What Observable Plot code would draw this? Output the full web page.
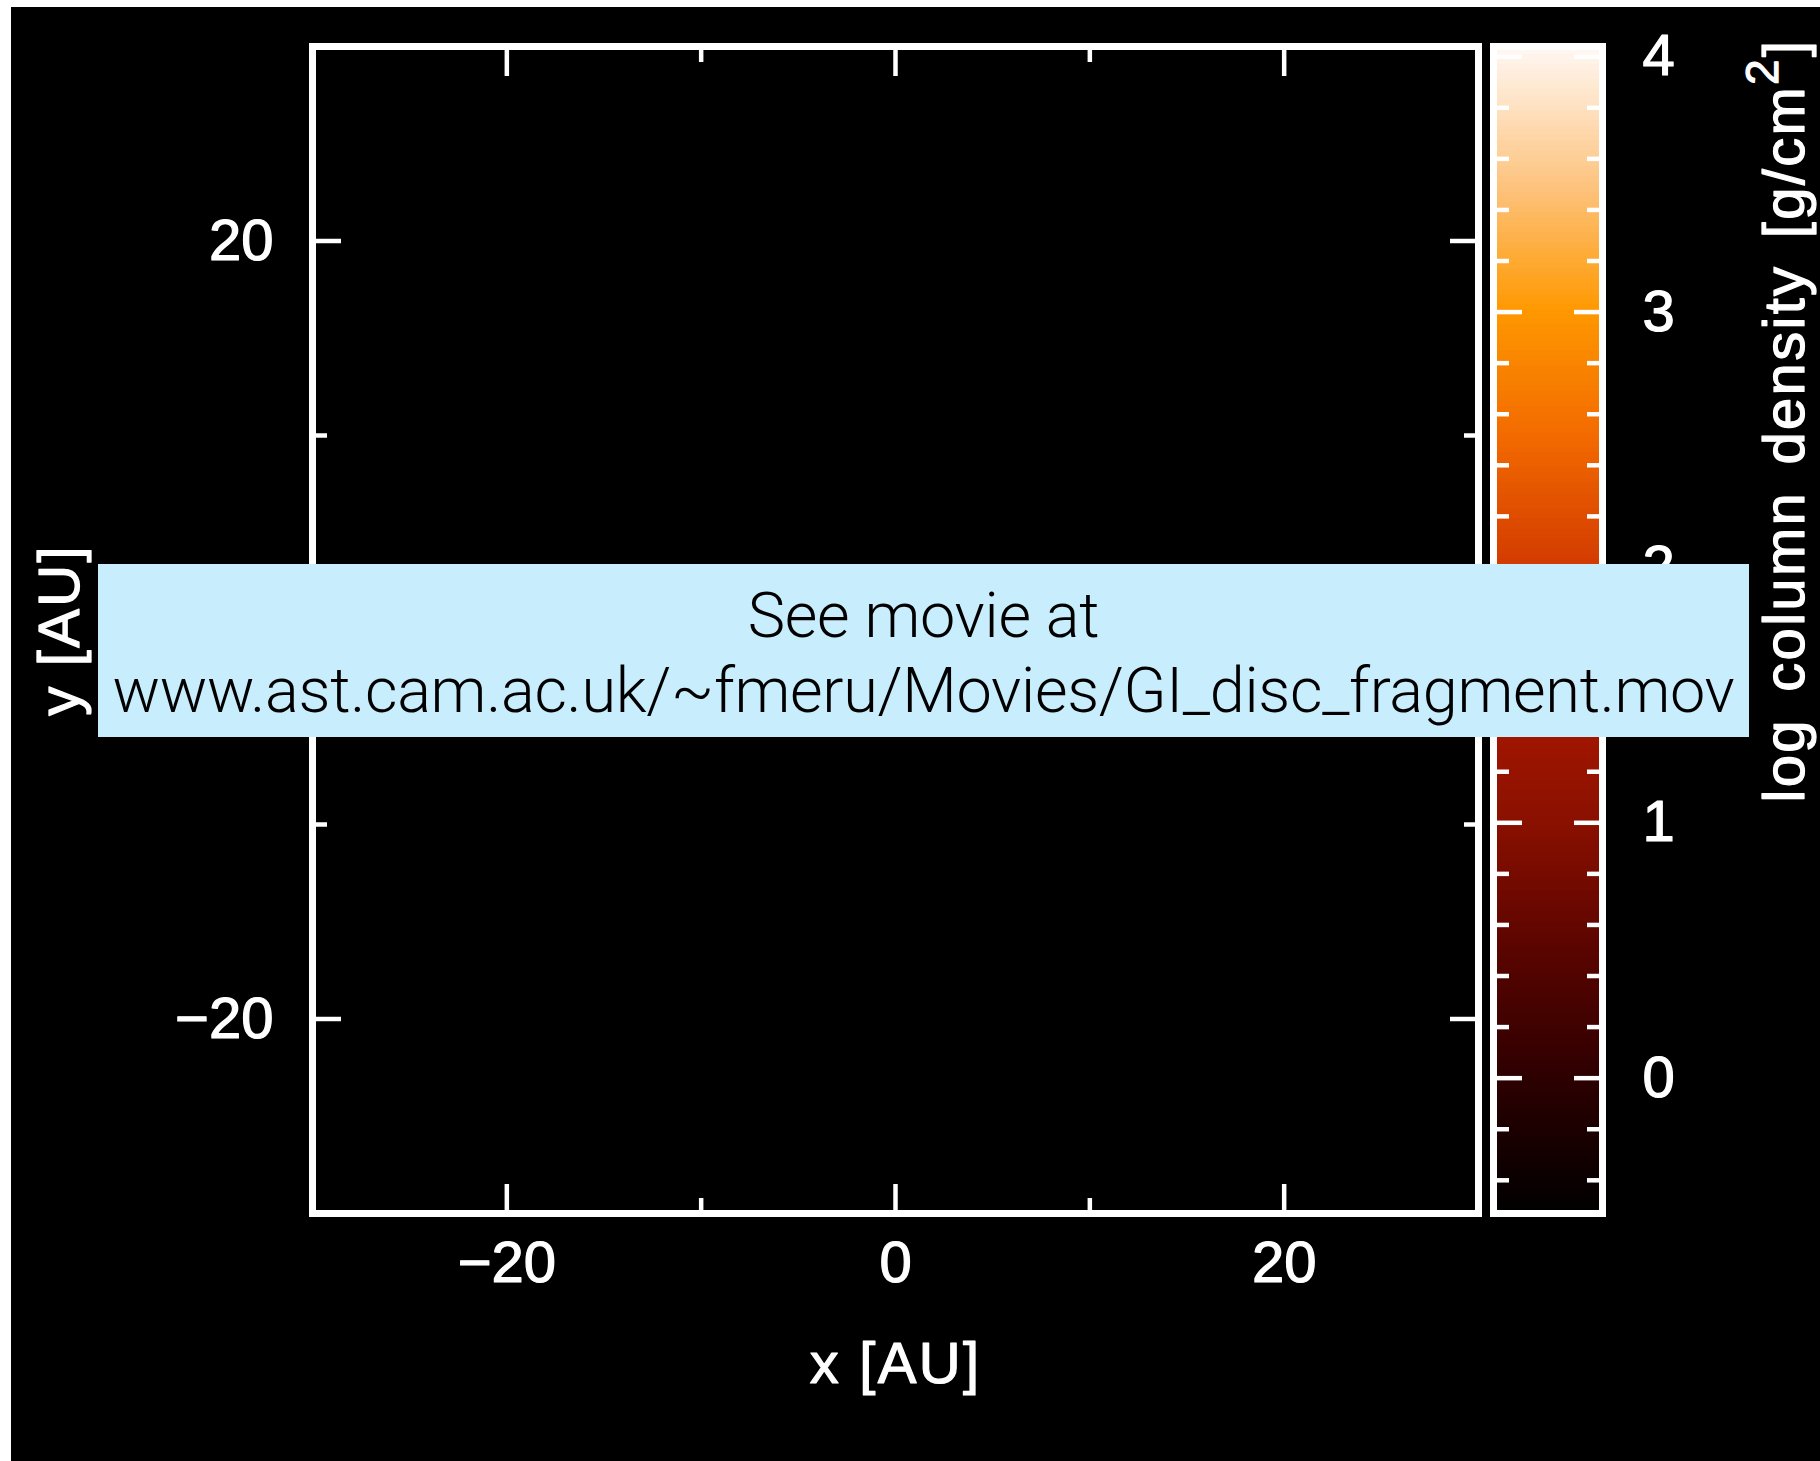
<!DOCTYPE html>
<html>
<head>
<meta charset="utf-8">
<script src="https://cdn.jsdelivr.net/npm/d3@7"></script>
<script src="https://cdn.jsdelivr.net/npm/@observablehq/plot@0.6"></script>
<style>
  html, body { margin: 0; padding: 0; background: #ffffff; }
  #stage { position: absolute; left: 11px; top: 7px; width: 1809px; height: 1454px; background: #000000; overflow: hidden; }
  #stage svg { position: absolute; top: 0; }
  #note {
    position: absolute; left: 87px; top: 557px; width: 1651px; height: 173px;
    background: #c8edfc; color: #000000; text-align: center;
    font-family: Roboto, "Open Sans", sans-serif; font-weight: 300; font-size: 63px;
    letter-spacing: -0.3px;
    line-height: 75px; box-sizing: border-box; padding-top: 14px; white-space: nowrap;
  }
</style>
</head>
<body>
<div id="stage"></div>
<script>
// Map extent (AU) and axis ticks
const xDomain = [-30, 30];
const yDomain = [-30, 30];
const xMajorTicks = [-20, 0, 20];
const xMinorTicks = [-10, 10];
const yMajorTicks = [-20, 0, 20];
const yMinorTicks = [-10, 10];
const xLabel = "x [AU]";
const yLabel = "y [AU]";

// Colour bar: log column density range, colour stops and ticks
const cbDomain = [-0.53, 4.04];
const cbStops  = [-0.53, 0, 0.5, 1, 1.5, 2, 2.5, 3, 3.5, 4.04];
const cbColors = ["#000000", "#2d0000", "#5a0400", "#8a1000", "#aa1800", "#d23a00", "#f26900", "#ff9800", "#fdc480", "#fff8f4"];
const cbMajorTicks = [0, 1, 2, 3, 4];
const cbMinorTicks = [-0.4, -0.2, 0.2, 0.4, 0.6, 0.8, 1.2, 1.4, 1.6, 1.8, 2.2, 2.4, 2.6, 2.8, 3.2, 3.4, 3.6, 3.8];
const cbTitle = "log column density [g/cm²]";

// Overlay note
const noteLines = ["See movie at", "www.ast.cam.ac.uk/~fmeru/Movies/GI_disc_fragment.mov"];

const FONT = "'Liberation Sans', Arial, sans-serif";
const svgStyle = {background: "transparent", color: "white", fontFamily: FONT, fontSize: "58px"};
const tickStyle = {stroke: "white", strokeWidth: 4.5, fill: "none", label: null};
const labelStyle = {tickSize: 0, fill: "white", textStroke: "white", textStrokeWidth: 1.2,
                    fontSize: 58, fontFamily: FONT, label: null};
const titleStyle = {fill: "white", stroke: "white", strokeWidth: 1.2, fontSize: 58, fontFamily: FONT,
                    textAnchor: "middle", lineAnchor: "middle"};

const stage = document.getElementById("stage");

// Main panel: empty column-density map with framed, inward-ticked axes
const main = Plot.plot({
  width: 1490, height: 1454,
  marginLeft: 301, marginRight: 23, marginTop: 39, marginBottom: 248,
  x: {domain: xDomain},
  y: {domain: yDomain},
  style: svgStyle,
  marks: [
    ...["top", "bottom"].flatMap(anchor => [
      Plot.axisX(xMajorTicks, {anchor, tickSize: -29, ...tickStyle}),
      Plot.axisX(xMinorTicks, {anchor, tickSize: -15, ...tickStyle})
    ]),
    ...["left", "right"].flatMap(anchor => [
      Plot.axisY(yMajorTicks, {anchor, tickSize: -29, ...tickStyle}),
      Plot.axisY(yMinorTicks, {anchor, tickSize: -15, ...tickStyle})
    ]),
    Plot.axisX(xMajorTicks, {anchor: "bottom", tickPadding: 27, ...labelStyle}),
    Plot.axisY(yMajorTicks, {anchor: "left", tickPadding: 39, ...labelStyle}),
    Plot.text([xLabel], {text: d => d, frameAnchor: "bottom", dy: 151, ...titleStyle}),
    Plot.text([yLabel], {text: d => d, frameAnchor: "left", rotate: -90, dx: -252, ...titleStyle}),
    Plot.frame({stroke: "white", strokeWidth: 7})
  ]
});
main.style.left = "0px";
stage.appendChild(main);

// Colour bar
const cbStep = 0.02;
const cbLevels = d3.range(cbDomain[0], cbDomain[1], cbStep);
const bar = Plot.plot({
  width: 339, height: 1454,
  marginLeft: 12, marginRight: 218, marginTop: 39, marginBottom: 248,
  y: {domain: cbDomain},
  color: {type: "linear", domain: cbStops, range: cbColors, interpolate: "rgb"},
  style: svgStyle,
  marks: [
    Plot.rect(cbLevels, {y1: d => d, y2: d => Math.min(d + cbStep, cbDomain[1]), fill: d => d + cbStep / 2, shapeRendering: "crispEdges"}),
    ...["left", "right"].flatMap(anchor => [
      Plot.axisY(cbMajorTicks, {anchor, tickSize: -29, ...tickStyle}),
      Plot.axisY(cbMinorTicks, {anchor, tickSize: -16, ...tickStyle})
    ]),
    Plot.axisY(cbMajorTicks, {anchor: "right", tickPadding: 40, tickFormat: "d", ...labelStyle}),
    Plot.text([cbTitle], {text: d => d, frameAnchor: "right", rotate: -90, dx: 183, dy: -209.5, ...titleStyle}),
    Plot.frame({stroke: "white", strokeWidth: 7})
  ]
});
bar.style.left = "1470px";
stage.appendChild(bar);

// Wider letter spacing for the axis titles
const NS = "http://www.w3.org/2000/svg";
[main, bar].forEach(svg => svg.querySelectorAll("text").forEach(t => {
  if ([xLabel, yLabel].includes(t.textContent)) t.setAttribute("letter-spacing", "2.3");
}));

// Colour-bar title with a raised "2" in cm²
bar.querySelectorAll("text").forEach(t => {
  if (t.textContent !== cbTitle) return;
  t.setAttribute("letter-spacing", "2.3");
  t.setAttribute("word-spacing", "8");
  t.textContent = "";
  const parts = [
    {s: cbTitle.replace("²]", ""), attrs: {}},
    {s: "2", attrs: {"font-size": 46, dy: -26}},
    {s: "]", attrs: {dy: 26}}
  ];
  for (const p of parts) {
    const ts = document.createElementNS(NS, "tspan");
    for (const [k, v] of Object.entries(p.attrs)) ts.setAttribute(k, v);
    ts.textContent = p.s;
    t.appendChild(ts);
  }
});

// Light-blue note laid over the map
const note = document.createElement("div");
note.id = "note";
noteLines.forEach(line => {
  const d = document.createElement("div");
  d.textContent = line;
  note.appendChild(d);
});
stage.appendChild(note);
</script>
</body>
</html>
